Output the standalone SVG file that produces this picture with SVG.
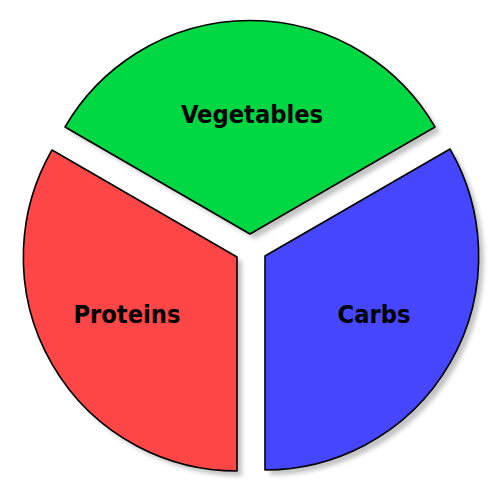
<svg xmlns="http://www.w3.org/2000/svg" width="500" height="500" viewBox="0 0 500 500">
<defs>
<filter id="sh" x="-10%" y="-10%" width="120%" height="120%">
<feGaussianBlur stdDeviation="2"/>
</filter>
</defs>
<style>
.slice{stroke:#000;stroke-width:1.6;stroke-linejoin:round}
.shadow{fill:#c4c4c4;filter:url(#sh)}
.lbl{font-family:"DejaVu Sans Condensed","DejaVu Sans",sans-serif;font-weight:bold;font-size:25.2px;fill:#000;text-anchor:middle}
</style>
<rect width="500" height="500" fill="#fff"/>
<g id="shadows">
<path class="shadow" transform="translate(5,5)" d="M250,234 L65,127 A214,214 0 0 1 435,127 Z"/>
<path class="shadow" transform="translate(5,5)" d="M237,257 L52,150 A214,214 0 0 0 237,471 Z"/>
<path class="shadow" transform="translate(5,5)" d="M265,256 L450,149 A214,214 0 0 1 265,470 Z"/>
</g>
<g id="vegetables">
<path class="slice" fill="#00D843" d="M250,234 L65,127 A214,214 0 0 1 435,127 Z"/>
<text class="lbl" x="252" y="123">Vegetables</text>
</g>
<g id="proteins">
<path class="slice" fill="#FF4646" d="M237,257 L52,150 A214,214 0 0 0 237,471 Z"/>
<text class="lbl" x="127" y="323">Proteins</text>
</g>
<g id="carbs">
<path class="slice" fill="#4646FF" d="M265,256 L450,149 A214,214 0 0 1 265,470 Z"/>
<text class="lbl" x="374" y="323">Carbs</text>
</g>
</svg>
